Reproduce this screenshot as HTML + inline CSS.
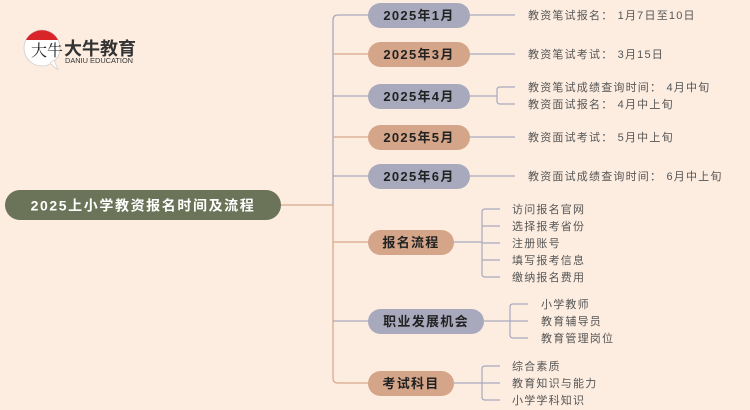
<!DOCTYPE html>
<html><head><meta charset="utf-8"><style>
html,body{margin:0;padding:0;background:#fdede1;}
svg{display:block;}
text{font-family:"Liberation Sans","Noto Sans CJK SC",sans-serif;}
.n{font-size:13px;font-weight:bold;fill:#222;text-anchor:middle;letter-spacing:1.3px;}
.l{font-size:11px;fill:#555;letter-spacing:1.2px;}
</style></head><body>
<svg width="750" height="410" xmlns="http://www.w3.org/2000/svg">
<rect width="750" height="410" fill="#fdede1"/>
<!-- logo -->
<circle cx="42" cy="48" r="18" fill="#fff" stroke="#ccc" stroke-width="0.8"/>
<path d="M26 40 A18 18 0 0 1 58 40 Z" fill="#d9252a"/>
<path d="M50 63 L58 70 L54 60 Z" fill="#fff" stroke="#ccc" stroke-width="0.6"/>
<text x="31" y="56" font-size="16" fill="#222" style="font-family:'Noto Serif CJK SC',serif">大牛</text>
<text x="64" y="55" font-size="18" font-weight="bold" fill="#333">大牛教育</text>
<text x="65" y="63" font-size="7.4" fill="#333">DANIU EDUCATION</text>
<!-- root -->
<line x1="280" y1="205" x2="333" y2="205" stroke="#d9a98c" stroke-width="1.3"/>
<rect x="5" y="190" width="276" height="30" rx="15" fill="#6b7358"/>
<text x="143" y="210.5" font-size="14" font-weight="bold" fill="#fff" text-anchor="middle" letter-spacing="1.6">2025上小学教资报名时间及流程</text>
<!-- trunk -->
<path d="M333 20 Q333 15 338 15 L370 15" fill="none" stroke="#a9a9bd" stroke-width="1.3"/>
<line x1="333" y1="20" x2="333" y2="205" stroke="#a9a9bd" stroke-width="1.3"/>
<path d="M333 205 L333 378 Q333 383 338 383 L370 383" fill="none" stroke="#d9a98c" stroke-width="1.3"/>
<g stroke-width="1.3" fill="none">
<line x1="333" y1="54" x2="370" y2="54" stroke="#d9a98c"/>
<line x1="333" y1="96" x2="370" y2="96" stroke="#a9a9bd"/>
<line x1="333" y1="137" x2="370" y2="137" stroke="#d9a98c"/>
<line x1="333" y1="176" x2="370" y2="176" stroke="#a9a9bd"/>
<line x1="333" y1="242" x2="370" y2="242" stroke="#d9a98c"/>
<line x1="333" y1="321" x2="370" y2="321" stroke="#a9a9bd"/>
</g>
<!-- leaf connectors -->
<g stroke="#a9a9bd" stroke-width="1.2" fill="none">
<line x1="470" y1="15" x2="515" y2="15"/>
<line x1="470" y1="54" x2="515" y2="54"/>
<line x1="470" y1="137" x2="515" y2="137"/>
<line x1="470" y1="176" x2="515" y2="176"/>
<line x1="470" y1="96" x2="497" y2="96"/>
<path d="M515 87 L500 87 Q497 87 497 90 L497 101 Q497 104 500 104 L515 104"/>
<line x1="454" y1="242" x2="482" y2="242"/>
<path d="M500 209 L485 209 Q482 209 482 212 L482 274 Q482 277 485 277 L500 277 M482 226 L500 226 M482 243 L500 243 M482 260 L500 260"/>
<line x1="484" y1="321" x2="510" y2="321"/>
<path d="M528 304 L513 304 Q510 304 510 307 L510 335 Q510 338 513 338 L528 338 M510 321 L528 321"/>
<line x1="454" y1="383" x2="482" y2="383"/>
<path d="M500 366 L485 366 Q482 366 482 369 L482 397 Q482 400 485 400 L500 400 M482 383 L500 383"/>
</g>
<!-- nodes -->
<rect x="368" y="3" width="102" height="25" rx="12.5" fill="#a9a9bd"/><text class="n" x="419" y="20">2025年1月</text>
<rect x="368" y="42" width="102" height="25" rx="12.5" fill="#d5a589"/><text class="n" x="419" y="59">2025年3月</text>
<rect x="368" y="84" width="102" height="25" rx="12.5" fill="#a9a9bd"/><text class="n" x="419" y="101">2025年4月</text>
<rect x="368" y="125" width="102" height="25" rx="12.5" fill="#d5a589"/><text class="n" x="419" y="142">2025年5月</text>
<rect x="368" y="164" width="102" height="25" rx="12.5" fill="#a9a9bd"/><text class="n" x="419" y="181">2025年6月</text>
<rect x="368" y="230" width="86" height="25" rx="12.5" fill="#d5a589"/><text class="n" x="411" y="247">报名流程</text>
<rect x="368" y="309" width="116" height="25" rx="12.5" fill="#a9a9bd"/><text class="n" x="426" y="326">职业发展机会</text>
<rect x="368" y="371" width="86" height="25" rx="12.5" fill="#d5a589"/><text class="n" x="411" y="388">考试科目</text>
<!-- leaves -->
<text class="l" x="528" y="19">教资笔试报名： 1月7日至10日</text>
<text class="l" x="528" y="58">教资笔试考试： 3月15日</text>
<text class="l" x="528" y="91">教资笔试成绩查询时间： 4月中旬</text>
<text class="l" x="528" y="108">教资面试报名： 4月中上旬</text>
<text class="l" x="528" y="141">教资面试考试： 5月中上旬</text>
<text class="l" x="528" y="180">教资面试成绩查询时间： 6月中上旬</text>
<text class="l" x="512" y="213">访问报名官网</text>
<text class="l" x="512" y="230">选择报考省份</text>
<text class="l" x="512" y="247">注册账号</text>
<text class="l" x="512" y="264">填写报考信息</text>
<text class="l" x="512" y="281">缴纳报名费用</text>
<text class="l" x="541" y="308">小学教师</text>
<text class="l" x="541" y="325">教育辅导员</text>
<text class="l" x="541" y="342">教育管理岗位</text>
<text class="l" x="512" y="370">综合素质</text>
<text class="l" x="512" y="387">教育知识与能力</text>
<text class="l" x="512" y="404">小学学科知识</text>
</svg>
</body></html>
